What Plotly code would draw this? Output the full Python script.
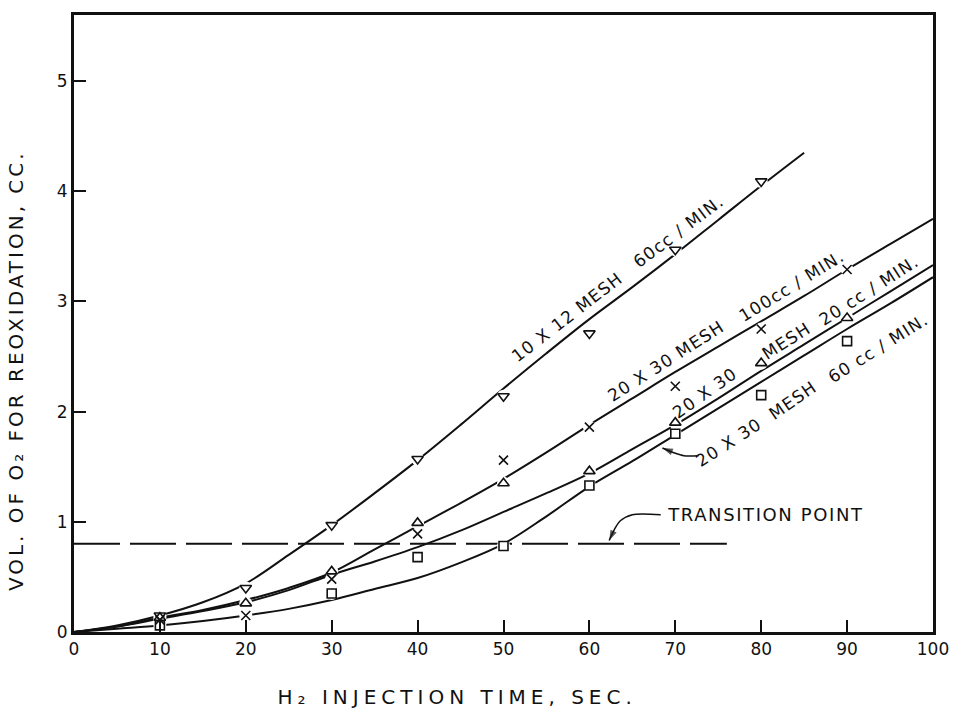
import plotly.graph_objects as go

# ---------------- data ----------------
# measured points
x_down = [10, 20, 30, 40, 50, 60, 70, 80]                 # 10 X 12 mesh, 60 cc/min
y_down = [0.15, 0.40, 0.97, 1.57, 2.14, 2.71, 3.47, 4.09]
x_cross = [10, 20, 30, 40, 50, 60, 70, 80, 90]            # 20 X 30 mesh, 100 cc/min
y_cross = [0.11, 0.15, 0.48, 0.89, 1.56, 1.86, 2.23, 2.75, 3.29]
x_up = [10, 20, 30, 40, 50, 60, 70, 80, 90]               # 20 X 30 mesh, 20 cc/min
y_up = [0.13, 0.26, 0.55, 0.99, 1.35, 1.46, 1.90, 2.44, 2.85]
x_square = [10, 30, 40, 50, 60, 70, 80, 90]               # 20 X 30 mesh, 60 cc/min
y_square = [0.06, 0.35, 0.68, 0.78, 1.33, 1.80, 2.15, 2.64]

# drawn (fitted) curves
curve_x_short = [0, 5, 10, 15, 20, 25, 30, 35, 40, 45, 50, 55, 60, 65, 70, 75, 80, 85]
curve_y_10x12 = [0, 0.06, 0.15, 0.27, 0.44, 0.70, 0.97, 1.26, 1.56, 1.88, 2.21, 2.53,
                 2.84, 3.13, 3.43, 3.74, 4.05, 4.35]
curve_x_long = [0, 5, 10, 15, 20, 25, 30, 35, 40, 45, 50, 55, 60, 65, 70, 75, 80, 85, 90, 95, 100]
curve_y_100cc = [0, 0.05, 0.13, 0.20, 0.29, 0.40, 0.54, 0.75, 0.96, 1.17, 1.39, 1.63, 1.88,
                 2.12, 2.36, 2.59, 2.82, 3.05, 3.29, 3.52, 3.75]
curve_y_20cc = [0, 0.05, 0.12, 0.19, 0.27, 0.38, 0.52, 0.64, 0.77, 0.92, 1.09, 1.26, 1.44,
                1.66, 1.88, 2.12, 2.37, 2.61, 2.85, 3.09, 3.33]
curve_y_60cc = [0, 0.03, 0.06, 0.10, 0.15, 0.21, 0.29, 0.39, 0.49, 0.63, 0.80, 1.05, 1.32,
                1.55, 1.79, 2.03, 2.27, 2.51, 2.75, 2.98, 3.22]

transition_x = [0, 76]
transition_y = [0.80, 0.80]

x_ticks = [0, 10, 20, 30, 40, 50, 60, 70, 80, 90, 100]
y_ticks = [0, 1, 2, 3, 4, 5]

label_text = ["10 X 12 MESH", "60cc / MIN.", "20 X 30 MESH", "100cc / MIN.",
              "20 X 30", "MESH", "20 cc / MIN.",
              "20 X 30", "MESH", "60 cc / MIN."]
label_x = [57.4, 70.4, 68.9, 83.5, 73.4, 82.9, 92.6, 76.3, 83.7, 93.6]
label_y = [2.86, 3.64, 2.46, 3.14, 2.17, 2.64, 3.10, 1.72, 2.11, 2.58]
label_angle = [-37.7, -36.9, -32.7, -31.7, -35.4, -32.6, -32.6, -32.9, -34.7, -32.1]

transition_label = "TRANSITION POINT"
transition_label_x = 80.6
transition_label_y = 1.065
# leader: horizontal part, then a bent part ending in the arrow tip
transition_leader_x = [68.3, 65.0, 63.6, 62.9, 62.3]
transition_leader_y = [1.065, 1.065, 1.01, 0.93, 0.83]

mesh_leader_x = [72.7, 71.0, 69.9, 68.5]
mesh_leader_y = [1.60, 1.60, 1.625, 1.67]

x_title = "H\u2082 INJECTION TIME, SEC."
y_title = "VOL. OF O\u2082 FOR REOXIDATION, CC."

FONT = "DejaVu Sans"
INK = "#111111"

fig = go.Figure()

# transition (dashed) line
fig.add_trace(go.Scatter(x=transition_x, y=transition_y, mode="lines",
                         line=dict(color=INK, width=2, dash="46px,10px"),
                         hoverinfo="skip", showlegend=False))

# curves
for cx, cy in [(curve_x_short, curve_y_10x12), (curve_x_long, curve_y_100cc),
               (curve_x_long, curve_y_20cc), (curve_x_long, curve_y_60cc)]:
    fig.add_trace(go.Scatter(x=cx, y=cy, mode="lines",
                             line=dict(color=INK, width=2, shape="spline", smoothing=1.0),
                             hoverinfo="skip", showlegend=False))

# leader lines with arrow heads at their last point
for lx, ly in [(transition_leader_x, transition_leader_y), (mesh_leader_x, mesh_leader_y)]:
    n = len(lx)
    fig.add_trace(go.Scatter(x=lx, y=ly, mode="lines+markers",
                             line=dict(color=INK, width=1.5, shape="spline", smoothing=0.8),
                             marker=dict(symbol=["circle"] * (n - 1) + ["arrow"],
                                         size=[0] * (n - 1) + [11],
                                         angleref="previous", color=INK,
                                         line=dict(width=0)),
                             hoverinfo="skip", showlegend=False))

# white masks to give the line gaps around the markers
for mx, my in [(x_down, y_down), (x_cross, y_cross), (x_up, y_up), (x_square, y_square)]:
    fig.add_trace(go.Scatter(x=mx, y=my, mode="markers",
                             marker=dict(symbol="circle", size=13, color="white",
                                         line=dict(width=0)),
                             hoverinfo="skip", showlegend=False))

# markers
marker_specs = [
    (x_down, y_down, "triangle-down-open", 10),
    (x_cross, y_cross, "x-thin-open", 9),
    (x_up, y_up, "triangle-up-open", 10),
    (x_square, y_square, "square-open", 9),
]
for mx, my, sym, sz in marker_specs:
    fig.add_trace(go.Scatter(x=mx, y=my, mode="markers",
                             marker=dict(symbol=sym, size=sz, color=INK,
                                         line=dict(color=INK, width=1.6)),
                             showlegend=False))

annotations = []
for t, x, y, a in zip(label_text, label_x, label_y, label_angle):
    annotations.append(dict(x=x, y=y, xref="x", yref="y", text=t, showarrow=False,
                            textangle=a, font=dict(family=FONT, size=17, color=INK),
                            xanchor="center", yanchor="middle"))

annotations.append(dict(x=transition_label_x, y=transition_label_y, xref="x", yref="y",
                        text=transition_label, showarrow=False,
                        font=dict(family=FONT, size=18, color=INK),
                        xanchor="center", yanchor="middle"))

# axis titles
annotations.append(dict(x=0.446, y=-0.105, xref="paper", yref="paper", text=x_title,
                        showarrow=False, font=dict(family=FONT, size=20, color=INK),
                        xanchor="center", yanchor="middle"))
annotations.append(dict(x=-0.068, y=0.423, xref="paper", yref="paper", text=y_title,
                        showarrow=False, textangle=-90,
                        font=dict(family=FONT, size=20, color=INK),
                        xanchor="center", yanchor="middle"))

axis_common = dict(showline=True, linecolor=INK, linewidth=3, mirror=True,
                   ticks="inside", ticklen=12, tickwidth=1.6, tickcolor=INK,
                   showgrid=False, zeroline=False,
                   tickfont=dict(family=FONT, size=17, color=INK))

fig.update_layout(
    width=961, height=710, autosize=False,
    margin=dict(l=74, r=22, t=13, b=78),
    paper_bgcolor="white", plot_bgcolor="white",
    xaxis=dict(range=[0, 100], tickvals=x_ticks, ticktext=[str(v) for v in x_ticks],
               **axis_common),
    yaxis=dict(range=[0, 5.6], tickvals=y_ticks, ticktext=[str(v) for v in y_ticks],
               ticklabelstandoff=0, **axis_common),
    annotations=annotations,
    showlegend=False,
    font=dict(family=FONT, color=INK),
)

post_js = """
document.documentElement.style.overflow = 'hidden';
document.body.style.overflow = 'hidden';
document.body.style.margin = '0';
document.body.style.padding = '0';
var gd = document.getElementById('{plot_id}');
function applySpacing(){
  var nodes = gd.querySelectorAll('text.annotation-text');
  nodes.forEach(function(t){
    var s = t.textContent;
    if (s.indexOf('INJECTION') >= 0) { t.style.letterSpacing = '5px'; }
    else if (s.indexOf('REOXIDATION') >= 0) { t.style.letterSpacing = '3px'; }
    else if (s.indexOf('TRANSITION') >= 0) { t.style.letterSpacing = '1.6px'; }
    else { t.style.letterSpacing = '1.2px'; }
  });
}
applySpacing();
if (gd.on) { gd.on('plotly_afterplot', applySpacing); }
"""

fig.write_html("out.html", post_script=post_js, config={"displayModeBar": False})
